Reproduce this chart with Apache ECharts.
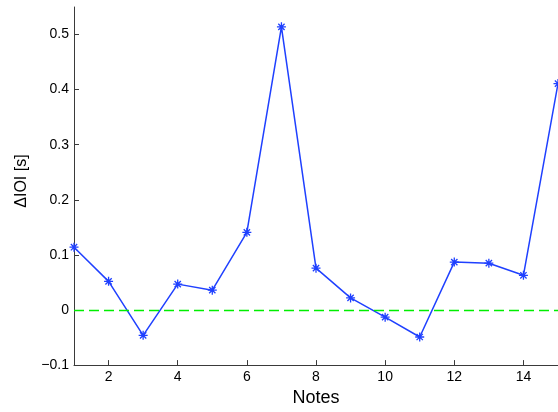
<!DOCTYPE html>
<html>
<head>
<meta charset="utf-8">
<script src="https://cdn.jsdelivr.net/npm/echarts@6/dist/echarts.min.js"></script>
<style>html,body{margin:0;padding:0;background:#fff}#c{width:558px;height:412px}</style>
</head>
<body>
<div id="c"></div>
<script>
const notes = [1,2,3,4,5,6,7,8,9,10,11,12,13,14,15];
const deltaIOI = [0.114,0.052,-0.046,0.047,0.036,0.141,0.514,0.076,0.022,-0.013,-0.049,0.087,0.085,0.063,0.411];
const xTicks = [2,4,6,8,10,12,14];
const yTicks = [-0.1,0,0.1,0.2,0.3,0.4,0.5];
const refLevel = 0;

const chart = echarts.init(document.getElementById('c'), null, {renderer:'canvas'});
const fontFamily = '"Liberation Sans", Arial, Helvetica, sans-serif';
const axisColor = '#3a3a3a';
const fmtY = v => { if (Math.abs(v) < 1e-9) return '0'; const s = (Math.round(v*10)/10).toString(); return s.replace('-', '\u2212'); };
chart.setOption({
  animation: false,
  grid: {left: 74, top: 7, width: 485, height: 359, containLabel: false},
  xAxis: {
    type: 'value', min: 1, max: 15,
    name: 'Notes', nameLocation: 'middle', nameGap: 18,
    nameTextStyle: {fontFamily, fontSize: 18, color: '#000'},
    axisLine: {show: true, onZero: false, lineStyle: {color: axisColor, width: 1}},
    axisTick: {show: true, inside: true, length: 5, customValues: xTicks, lineStyle: {color: axisColor}},
    axisLabel: {customValues: xTicks, fontFamily, fontSize: 14, color: '#000', margin: 5},
    splitLine: {show: false}
  },
  yAxis: {
    type: 'value', min: -0.1, max: 0.55,
    name: '\u0394IOI [s]', nameLocation: 'middle', nameGap: 44, nameRotate: 90,
    nameTextStyle: {fontFamily, fontSize: 16, color: '#000', padding: [0, 0, 0, 10]},
    axisLine: {show: true, onZero: false, lineStyle: {color: axisColor, width: 1}},
    axisTick: {show: true, inside: true, length: 5, customValues: yTicks, lineStyle: {color: axisColor}},
    axisLabel: {customValues: yTicks, formatter: fmtY, fontFamily, fontSize: 14, color: '#000', margin: 5},
    splitLine: {show: false}
  },
  series: [{
    type: 'line',
    data: notes.map((n,i) => [n, deltaIOI[i]]),
    lineStyle: {color: '#1f40ff', width: 1.5},
    symbol: 'path://M0,5 L10,5 M5,0 L5,10 M1.5,1.5 L8.5,8.5 M8.5,1.5 L1.5,8.5',
    symbolSize: 9,
    itemStyle: {color: 'rgba(0,0,0,0)', borderColor: '#1f40ff', borderWidth: 1.3},
    clip: false,
    markLine: {
      silent: true, symbol: 'none', label: {show: false},
      lineStyle: {color: '#00ee00', type: [10,5], width: 1.3},
      data: [{yAxis: refLevel}]
    }
  }]
});
</script>
</body>
</html>
